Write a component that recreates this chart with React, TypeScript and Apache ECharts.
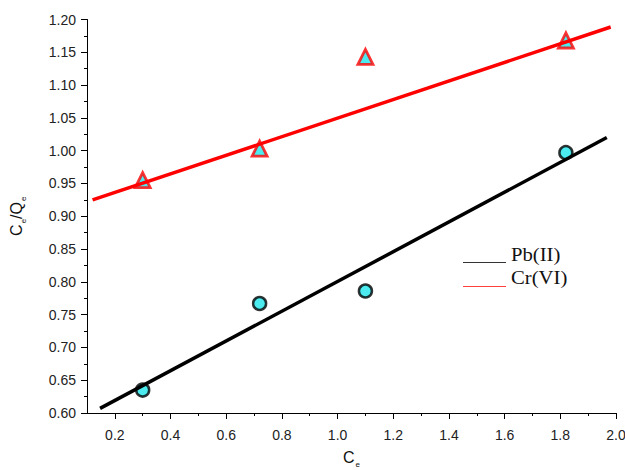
import React, { useEffect, useRef } from "react";
import * as echarts from "echarts";

const ceValues = [0.3, 0.72, 1.1, 1.82];
const pbValues = [0.635, 0.767, 0.786, 0.997];
const crValues = [0.955, 1.003, 1.143, 1.168];
const pbFitLine = [[0.147, 0.607], [1.967, 1.02]];
const crFitLine = [[0.12, 0.925], [1.981, 1.1886]];
const xMajorTicks = [0.2, 0.4, 0.6, 0.8, 1.0, 1.2, 1.4, 1.6, 1.8, 2.0];
const xMinorTicks = [0.3, 0.5, 0.7, 0.9, 1.1, 1.3, 1.5, 1.7, 1.9];
const legendNames = ["Pb(II)", "Cr(VI)"];

const SANS = "Liberation Sans, Arial, sans-serif";
const SERIF = "Liberation Serif, Times New Roman, serif";
const CYAN = "#1ee6ec";

export default function App() {
  const ref = useRef<HTMLDivElement>(null);
  useEffect(() => {
    if (!ref.current) return;
    const chart = echarts.init(ref.current, null, { renderer: "svg" });
    const axisLabelStyle = { color: "#222", fontSize: 14, fontFamily: SANS };
    const nameRich = {
      a: { fontSize: 16, fontFamily: SANS, color: "#111" },
      b: { fontSize: 8, fontFamily: SANS, color: "#111", padding: [14, 0, 0, 1] },
    };
    chart.setOption({
      animation: false,
      backgroundColor: "#fff",
      grid: { left: 87, top: 19.5, right: 9, bottom: 57, containLabel: false, outerBoundsMode: "none" },
      xAxis: [
        {
          type: "value",
          min: 0.1,
          max: 2.0,
          name: "{a|C}{b|e}",
          nameLocation: "middle",
          nameGap: 33,
          nameTextStyle: { rich: nameRich },
          axisLine: { show: true, lineStyle: { color: "#000", width: 1 } },
          axisTick: { show: true, length: 6, customValues: xMajorTicks, lineStyle: { color: "#000" } },
          axisLabel: {
            ...axisLabelStyle,
            margin: 15,
            customValues: xMajorTicks,
            formatter: (v: number) => v.toFixed(1),
          },
          splitLine: { show: false },
        },
        {
          type: "value",
          min: 0.1,
          max: 2.0,
          position: "bottom",
          axisLine: { show: false },
          axisTick: { show: true, length: 3, customValues: xMinorTicks, lineStyle: { color: "#000" } },
          axisLabel: { show: false },
          splitLine: { show: false },
        },
      ],
      yAxis: {
        type: "value",
        min: 0.6,
        max: 1.2,
        interval: 0.05,
        name: "{a|C}{b|e}{a|/Q}{b|e}",
        nameLocation: "middle",
        nameGap: 60,
        nameTextStyle: { rich: nameRich },
        axisLine: { show: true, lineStyle: { color: "#000", width: 1 } },
        axisTick: { show: true, length: 6, lineStyle: { color: "#000" } },
        minorTick: { show: true, splitNumber: 2, length: 3, lineStyle: { color: "#000" } },
        axisLabel: { ...axisLabelStyle, margin: 11, formatter: (v: number) => v.toFixed(2) },
        splitLine: { show: false },
      },
      series: [
        {
          type: "scatter",
          name: legendNames[1] + " data",
          data: ceValues.map((x, i) => [x, crValues[i]]),
          symbol: "triangle",
          symbolSize: 15,
          itemStyle: { color: CYAN, borderColor: "#ff0000", borderWidth: 2.8 },
          z: 2,
        },
        {
          type: "scatter",
          name: legendNames[0] + " data",
          data: ceValues.map((x, i) => [x, pbValues[i]]),
          symbol: "circle",
          symbolSize: 13,
          itemStyle: { color: CYAN, borderColor: "#000", borderWidth: 2.5 },
          z: 2,
        },
        {
          type: "line",
          name: legendNames[0],
          data: pbFitLine,
          showSymbol: false,
          symbol: "none",
          lineStyle: { color: "#000", width: 3.5 },
          z: 3,
        },
        {
          type: "line",
          name: legendNames[1],
          data: crFitLine,
          showSymbol: false,
          symbol: "none",
          lineStyle: { color: "#ff0000", width: 3.5 },
          z: 3,
        },
      ],
      graphic: [
        { type: "line", shape: { x1: 463, y1: 262.5, x2: 506, y2: 262.5 }, style: { stroke: "#333", lineWidth: 1.2 } },
        { type: "line", shape: { x1: 463, y1: 286.5, x2: 506, y2: 286.5 }, style: { stroke: "#ff4040", lineWidth: 1.2 } },
        {
          type: "text",
          x: 511,
          y: 255,
          scaleX: 1.15,
          style: { text: legendNames[0], font: "18px " + SERIF, fill: "#111", verticalAlign: "middle" },
        },
        {
          type: "text",
          x: 511,
          y: 278,
          scaleX: 1.15,
          style: { text: legendNames[1], font: "18px " + SERIF, fill: "#111", verticalAlign: "middle" },
        },
      ],
    });
    return () => chart.dispose();
  }, []);
  return <div ref={ref} style={{ position: "absolute", left: 0, top: 0, width: 625, height: 470 }} />;
}
